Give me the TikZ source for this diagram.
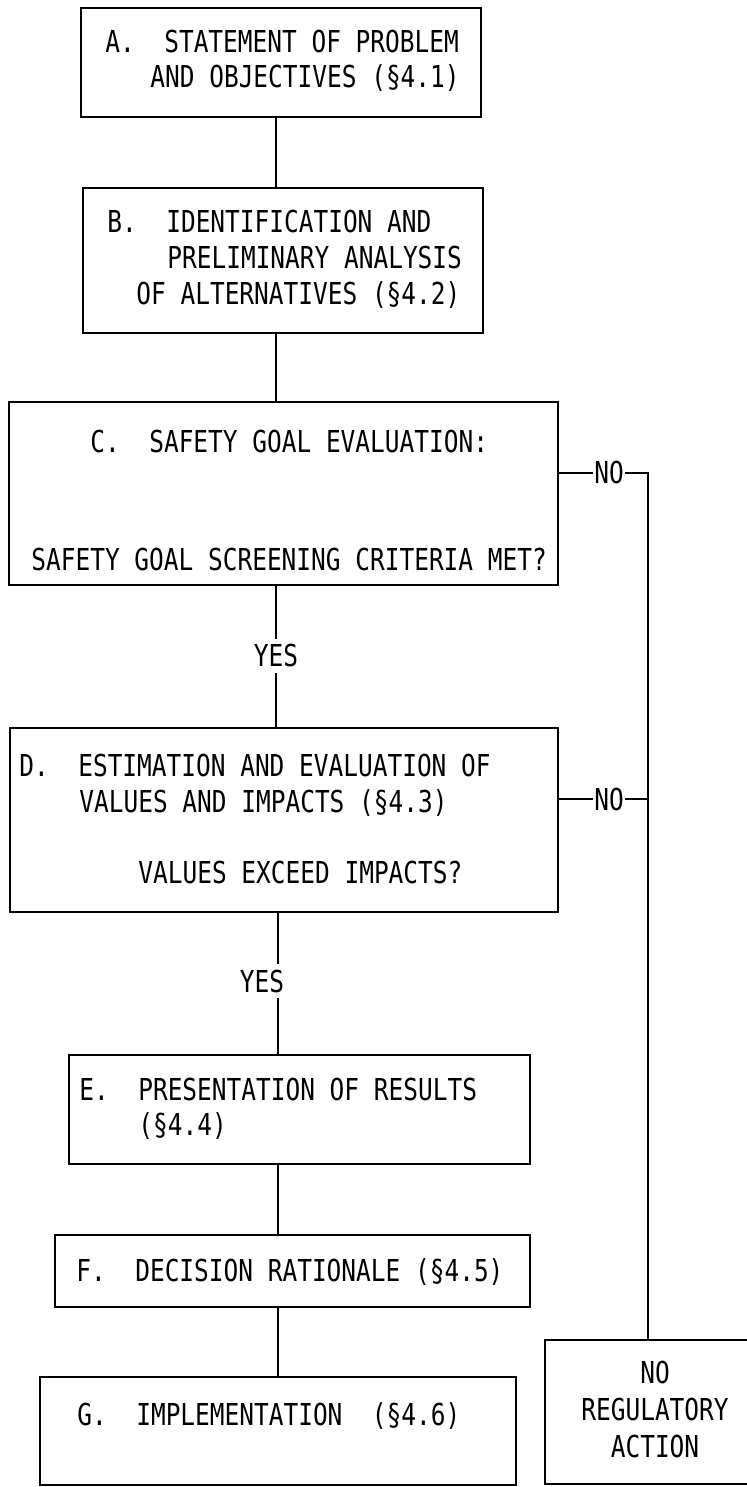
\documentclass[tikz,border=0pt]{standalone}
\usepackage{fontspec}
\newfontfamily\lgfont[FakeStretch=0.81]{DejaVu Sans Mono}
\newcommand{\lgsize}{\lgfont\fontsize{15.1pt}{18pt}\selectfont\frenchspacing}
\begin{document}
\begin{tikzpicture}[x=0.5pt,y=-0.5pt,
  box/.style={draw, line width=1pt, rectangle, inner sep=0pt},
  txt/.style={anchor=base west, inner sep=0pt, font=\lgsize},
  ctxt/.style={anchor=base, inner sep=0pt, font=\lgsize},
  lbl/.style={fill=white, inner xsep=2pt, inner ysep=3pt, font=\lgsize},
  nolbl/.style={fill=white, inner xsep=0.5pt, inner ysep=1pt, font=\lgsize},
  conn/.style={line width=1pt}]
\useasboundingbox (0,0) rectangle (747,1487);

% boxes
\node[box, minimum width=200pt, minimum height=54.5pt] (A) at (281,62.5) {};
\node[box, minimum width=200pt, minimum height=72.5pt] (B) at (283,260.5) {};
\node[box, minimum width=274.5pt, minimum height=91.5pt] (C) at (283.5,493.5) {};
\node[box, minimum width=274pt, minimum height=92pt] (D) at (284,820) {};
\node[box, minimum width=230.5pt, minimum height=54.5pt] (E) at (299.5,1109.5) {};
\node[box, minimum width=237.5pt, minimum height=36pt] (F) at (292.5,1271) {};
\node[box, minimum width=238pt, minimum height=54pt] (G) at (278,1431) {};
\node[box, minimum width=103.5pt, minimum height=72pt] (NR) at (648.5,1412) {};

% texts
\node[txt] (A1) at (105,53) {A.~ STATEMENT OF PROBLEM};
\node[txt] (A2) at (150,88) {AND OBJECTIVES (§4.1)};
\node[txt] (B1) at (107,233) {B.~ IDENTIFICATION AND};
\node[txt] (B2) at (167,268) {PRELIMINARY ANALYSIS};
\node[txt] (B3) at (136,304) {OF ALTERNATIVES (§4.2)};
\node[txt] (C1) at (90,452) {C.~ SAFETY GOAL EVALUATION:};
\node[txt] (C2) at (31,570) {SAFETY GOAL SCREENING CRITERIA MET?};
\node[txt] (D1) at (19,776) {D.~ ESTIMATION AND EVALUATION OF};
\node[txt] (D2) at (79,812) {VALUES AND IMPACTS (§4.3)};
\node[txt] (D3) at (138,883) {VALUES EXCEED IMPACTS?};
\node[txt] (E1) at (79,1100) {E.~ PRESENTATION OF RESULTS};
\node[txt] (E2) at (138,1135) {(§4.4)};
\node[txt] (F1) at (76,1281) {F.~ DECISION RATIONALE (§4.5)};
\node[txt] (G1) at (77,1425) {G.~ IMPLEMENTATION~ (§4.6)};
\node[ctxt] (NR1) at (655,1383) {NO};
\node[ctxt] (NR2) at (655,1420) {REGULATORY};
\node[ctxt] (NR3) at (655,1457) {ACTION};

% connector guides
\coordinate (spineU) at (276,0);
\coordinate (spineL) at (277.5,0);
\coordinate (rj1) at (648,473);
\coordinate (rj2) at (648,799);

% main spine
\draw[conn] (A.south -| spineU) -- (B.north -| spineU);
\draw[conn] (B.south -| spineU) -- (C.north -| spineU);
\draw[conn] (C.south -| spineU) -- (D.north -| spineU);
\draw[conn] (D.south -| spineL) -- (E.north -| spineL);
\draw[conn] (E.south -| spineL) -- (F.north -| spineL);
\draw[conn] (F.south -| spineL) -- (G.north -| spineL);

% NO branches
\draw[conn] (rj1 -| C.east) -- (rj1) -- (rj1 |- NR.north);
\draw[conn] (rj2 -| D.east) -- (rj2);

% labels
\node[lbl] (yes1) at (276,656) {YES};
\node[lbl] (yes2) at (262,981) {YES};
\node[nolbl] (no1) at (609,473) {NO};
\node[nolbl] (no2) at (609,799) {NO};
\end{tikzpicture}
\end{document}
